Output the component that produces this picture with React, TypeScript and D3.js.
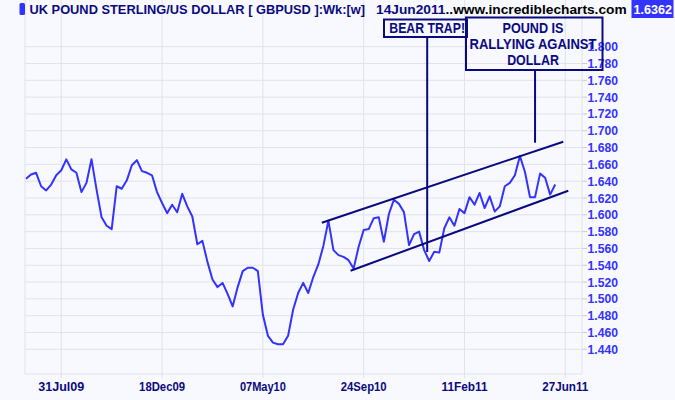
import React from "react";
import * as d3 from "d3";

// weekly closes, GBPUSD, Jun 2009 – Jun 2011
const closes: number[] = [
  1.643, 1.648, 1.650, 1.634, 1.629, 1.636, 1.647, 1.653, 1.666, 1.654,
  1.650, 1.627, 1.638, 1.666, 1.630, 1.597, 1.587, 1.583, 1.634, 1.631,
  1.641, 1.659, 1.665, 1.652, 1.650, 1.647, 1.627, 1.614, 1.602, 1.612,
  1.603, 1.625, 1.610, 1.598, 1.565, 1.569, 1.544, 1.523, 1.514, 1.519,
  1.506, 1.491, 1.514, 1.533, 1.537, 1.537, 1.533, 1.481, 1.456, 1.448,
  1.446, 1.446, 1.456, 1.487, 1.507, 1.519, 1.507, 1.526, 1.541, 1.563,
  1.593, 1.558, 1.552, 1.550, 1.546, 1.536, 1.562, 1.582, 1.583, 1.596,
  1.597, 1.568, 1.601, 1.618, 1.613, 1.603, 1.564, 1.577, 1.580, 1.558,
  1.545, 1.556, 1.555, 1.584, 1.597, 1.587, 1.607, 1.602, 1.621, 1.612,
  1.626, 1.608, 1.622, 1.604, 1.610, 1.634, 1.638, 1.647, 1.670, 1.651,
  1.621, 1.621, 1.649, 1.644, 1.624, 1.636,
];

const xTickLabels: string[] = ["31Jul09", "18Dec09", "07May10", "24Sep10", "11Feb11", "27Jun11"];
const xTickWeeks: number[] = [7, 27, 47, 67, 87, 107];
const yTickValues: number[] = d3.range(0, 19).map((k) => +(1.44 + k * 0.02).toFixed(3));

// trend channel (week index, price)
const channelUpper: [number, number][] = [[58.7, 1.5906], [106.6, 1.687]];
const channelLower: [number, number][] = [[64.4, 1.5335], [107.6, 1.6287]];
const bearTrapPoint: [number, number] = [79.6, 1.5557];
const poundPoint: [number, number] = [101, 1.6858];

const titleText = "UK POUND STERLING/US DOLLAR [ GBPUSD ]:Wk:[w]";
const dateText = "14Jun2011";
const siteText = "..www.incrediblecharts.com";
const lastValue = "1.6362";
const bearText = "BEAR TRAP!";
const poundLines = ["POUND IS", "RALLYING AGAINST", "DOLLAR"];
const poundWidths = [61, 127, 51.7];

const W = 675;
const H = 400;
const left = 25;
const right = 582;
const bottom = 374;

const BG = "#f8f8ff";
const GRID = "#e2e2ea";
const LINE = "#3333ff";
const NAVY = "#0a0a80";
const FONT = "'Liberation Sans', Arial, sans-serif";

export default function App() {
  const x = d3.scaleLinear().domain([0, 105]).range([26, 555.2]);
  const y = d3.scaleLinear().domain([1.44, 1.8]).range([349.3, 46.7]);

  const line = d3
    .line<number>()
    .x((_, i) => x(i))
    .y((d) => y(d));

  const seg = d3
    .line<[number, number]>()
    .x((d) => x(d[0]))
    .y((d) => y(d[1]));

  return (
    <svg
      width={W}
      height={H}
      style={{ position: "absolute", left: 0, top: 0, background: BG }}
      fontFamily={FONT}
    >
      <rect x={0} y={0} width={W} height={H} fill={BG} />
      {/* horizontal grid */}
      {yTickValues.map((v) => (
        <g key={"y" + v}>
          <line x1={left} x2={right} y1={y(v)} y2={y(v)} stroke={GRID} strokeWidth={1} />
          <line x1={right} x2={right + 5} y1={y(v)} y2={y(v)} stroke="#c8c8d8" strokeWidth={1} />
          <text
            x={right + 5.5}
            y={y(v)}
            dy="0.36em"
            fontSize={12.5}
            fontWeight="bold"
            fill={LINE}
            textLength={30.4}
            lengthAdjust="spacingAndGlyphs"
          >
            {v.toFixed(3)}
          </text>
        </g>
      ))}
      {/* vertical grid */}
      {xTickWeeks.map((w, i) => (
        <g key={"x" + w}>
          <line x1={x(w)} x2={x(w)} y1={0} y2={bottom + 4} stroke={GRID} strokeWidth={1} />
          <text
            x={x(w)}
            y={391}
            textAnchor="middle"
            fontSize={13}
            fontWeight="bold"
            fill={NAVY}
            textLength={46}
            lengthAdjust="spacingAndGlyphs"
          >
            {xTickLabels[i]}
          </text>
        </g>
      ))}
      {/* frame */}
      <line x1={left} x2={left} y1={0} y2={bottom} stroke={GRID} />
      <line x1={right} x2={right} y1={0} y2={bottom} stroke={GRID} />
      <line x1={left} x2={right} y1={bottom} y2={bottom} stroke={GRID} />

      {/* price line */}
      <path d={line(closes) || ""} fill="none" stroke={LINE} strokeWidth={2} strokeLinejoin="round" />

      {/* channel */}
      <path d={seg(channelUpper) || ""} stroke={NAVY} strokeWidth={2} fill="none" />
      <path d={seg(channelLower) || ""} stroke={NAVY} strokeWidth={2} fill="none" />

      {/* bear trap annotation */}
      <line x1={x(bearTrapPoint[0])} x2={x(bearTrapPoint[0])} y1={37} y2={y(bearTrapPoint[1])} stroke={NAVY} strokeWidth={2} />
      <rect x={384} y={19.5} width={83} height={17.5} fill={BG} stroke={NAVY} strokeWidth={2} />
      <text
        x={389.3}
        y={33.3}
        fontSize={14}
        fontWeight="bold"
        fill={NAVY}
        textLength={75.7}
        lengthAdjust="spacingAndGlyphs"
      >
        {bearText}
      </text>

      {/* pound annotation */}
      <line x1={x(poundPoint[0])} x2={x(poundPoint[0])} y1={70} y2={y(poundPoint[1])} stroke={NAVY} strokeWidth={2} />
      <rect x={466} y={17.5} width={136.5} height={52.5} fill="none" stroke={NAVY} strokeWidth={2} />
      {poundLines.map((t, i) => (
        <text
          key={t}
          x={533 - poundWidths[i] / 2}
          y={33.3 + i * 16}
          fontSize={14}
          fontWeight="bold"
          fill={NAVY}
          textLength={poundWidths[i]}
          lengthAdjust="spacingAndGlyphs"
        >
          {t}
        </text>
      ))}

      {/* header */}
      <rect x={19.5} y={3} width={5.5} height={12} rx={1.5} fill={LINE} />
      <text
        x={29.5}
        y={13.5}
        fontSize={13}
        fontWeight="bold"
        fill={NAVY}
        textLength={335.5}
        lengthAdjust="spacingAndGlyphs"
      >
        {titleText}
      </text>
      <text x={376} y={13.5} fontSize={13} fontWeight="bold" textLength={250.7} lengthAdjust="spacingAndGlyphs">
        <tspan fill={NAVY}>{dateText}</tspan>
        <tspan fill="#000000">{siteText}</tspan>
      </text>
      <rect x={631.5} y={0} width={42} height={18} fill={LINE} />
      <text
        x={633.5}
        y={13.5}
        fontSize={13}
        fontWeight="bold"
        fill="#ffffff"
        textLength={38.4}
        lengthAdjust="spacingAndGlyphs"
      >
        {lastValue}
      </text>
    </svg>
  );
}
